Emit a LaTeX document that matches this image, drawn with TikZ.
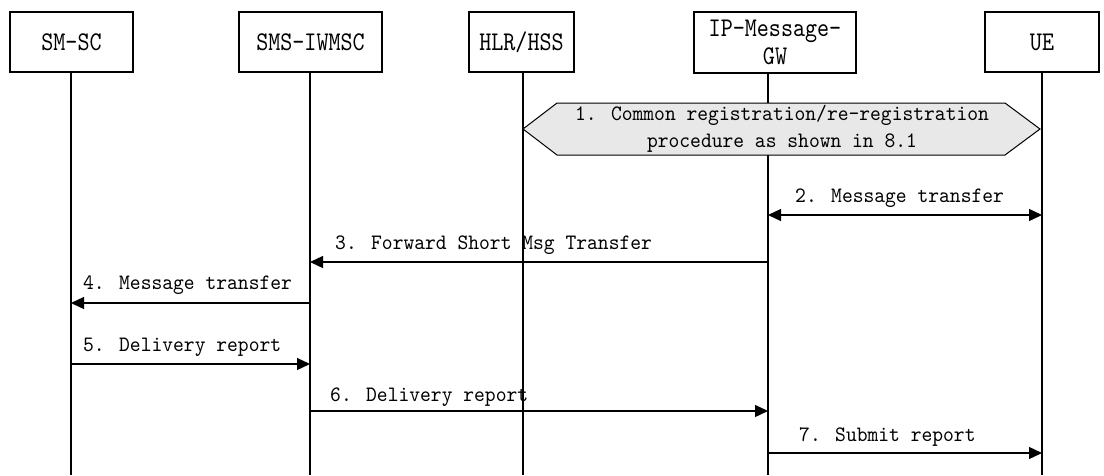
\documentclass[tikz,border=0pt]{standalone}
\usepackage{fontspec}
\newfontfamily\labfont{lmmono10-regular.otf}[FakeStretch=0.935]
\newfontfamily\entfont{lmmono10-regular.otf}[FakeStretch=0.85]
\usetikzlibrary{arrows.meta}
\begin{document}
\begin{tikzpicture}[x=1pt,y=-1pt,
  ln/.style={line width=1.3pt},
  ent/.style={draw, line width=1.3pt, minimum height=60pt, inner sep=0pt,
    font=\entfont\fontsize{27}{28}\selectfont, align=center},
  msg/.style={line width=1.3pt, -{Triangle[length=13pt,width=12pt]}},
  msgboth/.style={line width=1.3pt, {Triangle[length=13pt,width=12pt]}-{Triangle[length=13pt,width=12pt]}},
  lbl/.style={anchor=west, inner sep=0pt, font=\labfont\fontsize{22}{26}\selectfont}]
\useasboundingbox (0,0) rectangle (1104,475);
% entities
\node[ent, minimum width=123pt] (smsc) at (71.5,42) {SM-SC};
\node[ent, minimum width=143pt] (iw) at (310.5,42) {SMS-IWMSC};
\node[ent, minimum width=105pt] (hlr) at (521.5,42) {HLR/HSS};
\node[ent, minimum width=162pt, minimum height=61pt] (gw) at (775,42.5) {IP-Message-\\GW};
\node[ent, minimum width=114pt] (ue) at (1042,42) {UE};
% lifelines
\foreach \n/\x in {smsc/71, iw/310, hlr/523, gw/768, ue/1042} {
  \coordinate (\n T) at (\x,72);
  \coordinate (\n B) at (\x,475);
  \draw[ln] (\n T) -- (\n B);
}
% step 1
\draw[line width=1pt, fill=gray!18] (523,129) -- (557,103) -- (1005,103) -- (1040,129) -- (1005,155) -- (557,155) -- cycle;
\node[align=center, inner sep=0pt, font=\labfont\fontsize{22}{27}\selectfont] (reg) at (782,128.5)
  {1. Common registration/re-registration\\procedure as shown in 8.1};
% messages
\draw[msgboth] (gwT |- 0,215) -- (ueT |- 0,215);
\node[lbl] (m2) at (795,198) {2. Message transfer};
\draw[msg] (gwT |- 0,262) -- (iwT |- 0,262);
\node[lbl] (m3) at (335,245) {3. Forward Short Msg Transfer};
\draw[msg] (iwT |- 0,303) -- (smscT |- 0,303);
\node[lbl] (m4) at (83,285) {4. Message transfer};
\draw[msg] (smscT |- 0,364) -- (iwT |- 0,364);
\node[lbl] (m5) at (83,347) {5. Delivery report};
\draw[msg] (iwT |- 0,411) -- (gwT |- 0,411);
\node[lbl] (m6) at (330,397) {6. Delivery report};
\draw[msg] (gwT |- 0,453) -- (ueT |- 0,453);
\node[lbl] (m7) at (799,437) {7. Submit report};
\end{tikzpicture}
\end{document}
